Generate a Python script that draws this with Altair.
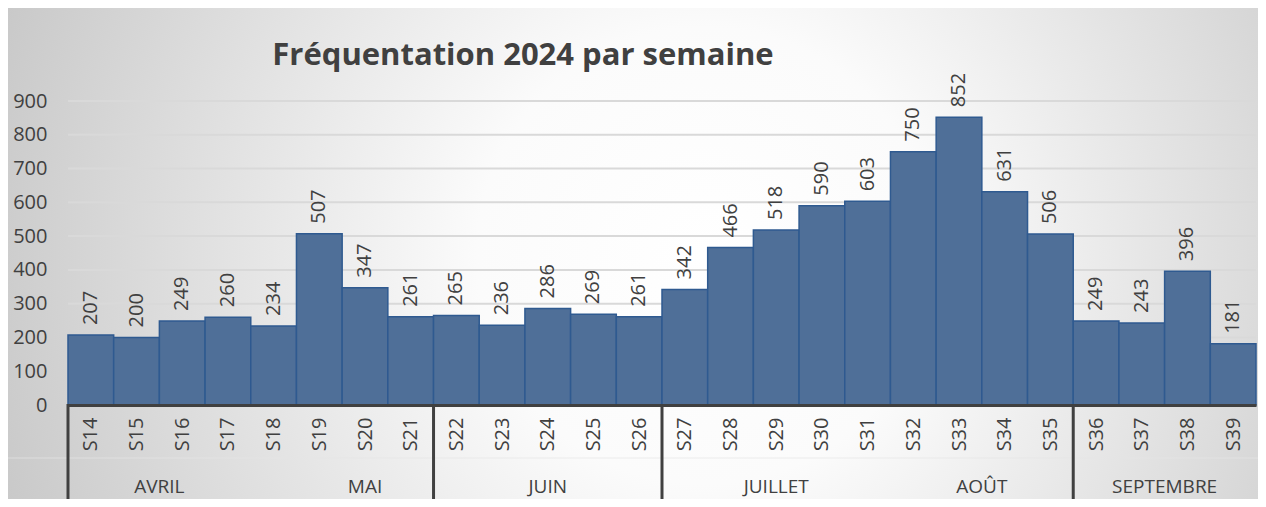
import json
import altair as alt
import pandas as pd

weeks = ["S14", "S15", "S16", "S17", "S18", "S19", "S20", "S21", "S22", "S23",
         "S24", "S25", "S26", "S27", "S28", "S29", "S30", "S31", "S32", "S33",
         "S34", "S35", "S36", "S37", "S38", "S39"]
visits = [207, 200, 249, 260, 234, 507, 347, 261, 265, 236,
          286, 269, 261, 342, 466, 518, 590, 603, 750, 852,
          631, 506, 249, 243, 396, 181]

months = ["AVRIL", "MAI", "JUIN", "JUILLET", "AOÛT", "SEPTEMBRE"]
month_first = ["S14", "S19", "S22", "S27", "S32", "S36"]
month_last = ["S17", "S21", "S26", "S31", "S35", "S39"]
separator_weeks = ["S14", "S22", "S27", "S36"]

title_text = "Fréquentation 2024 par semaine"
y_ticks = [0, 100, 200, 300, 400, 500, 600, 700, 800, 900]

W, H = 1188, 304
FONT = "Open Sans"
TXT = "#404040"

bars = pd.DataFrame({"week": weeks, "v": visits})
bars["i"] = range(len(weeks))
bars["i2"] = bars["i"] + 1
bars["c"] = bars["i"] + 0.5

mdf = pd.DataFrame({"m": months,
                    "c": [(weeks.index(a) + weeks.index(b) + 1) / 2
                          for a, b in zip(month_first, month_last)]})
sdf = pd.DataFrame({"s": [weeks.index(w) for w in separator_weeks]})
gdf = pd.DataFrame({"t": y_ticks[1:]})

xscale = alt.Scale(domain=[0, len(weeks)], nice=False, zero=False)
yscale = alt.Scale(domain=[0, 900], nice=False)

label_expr = json.dumps(weeks) + "[floor(datum.value)]"

xaxis = alt.Axis(values=[i + 0.5 for i in range(len(weeks))], labelExpr=label_expr,
                 title=None, grid=False, ticks=False, domain=True,
                 domainColor="#404040", domainWidth=3,
                 labelAngle=270, labelAlign="right", labelBaseline="middle",
                 labelPadding=12, labelFont=FONT, labelFontSize=20,
                 labelColor=TXT, labelOverlap=False, zindex=2)
yaxis = alt.Axis(values=y_ticks, title=None, domain=False, ticks=False,
                 grid=False, labelPadding=21, labelFont=FONT, labelFontSize=20,
                 labelColor=TXT, labelOverlap=False, labelBound=False,
                 labelFlush=False, zindex=2)

bg = alt.Chart(pd.DataFrame({"a": [0]})).mark_rect(
    fill=alt.RadialGradient(
        gradient="radial", x1=0.55, y1=0.5, x2=0.55, y2=0.5, r1=0, r2=0.72,
        stops=[alt.GradientStop(offset=0, color="#ffffff"),
               alt.GradientStop(offset=0.25, color="#fbfbfb"),
               alt.GradientStop(offset=1, color="#b8b8b8")]),
).encode(x=alt.value(-61), x2=alt.value(W + 20), y=alt.value(-94), y2=alt.value(H + 100))

faint = alt.Chart(pd.DataFrame({"a": [0]})).mark_rule(color="#e6e6e6", strokeWidth=1,
                                                      opacity=0.7).encode(
    x=alt.value(-61), x2=alt.value(W + 20), y=alt.value(H + 53))

grid = alt.Chart(gdf).mark_rule(color="#d9d9d9", strokeWidth=2).encode(
    x=alt.value(0), x2=alt.value(W), y=alt.Y("t:Q", scale=yscale, axis=yaxis))

base = alt.Chart(bars)

bar = base.mark_bar(color="#4f6f98", stroke="#2f5a90", strokeWidth=1.5).encode(
    x=alt.X("i:Q", scale=xscale, axis=xaxis),
    x2="i2:Q",
    y=alt.Y("v:Q", scale=yscale, axis=yaxis),
    y2=alt.datum(0),
)

vlabels = base.mark_text(angle=270, align="left", baseline="middle", dx=10,
                         font=FONT, fontSize=20, color=TXT).encode(
    x=alt.X("c:Q", scale=xscale, axis=xaxis), y=alt.Y("v:Q", scale=yscale, axis=yaxis),
    text="v:Q")

seps = alt.Chart(sdf).mark_rule(color="#404040", strokeWidth=3).encode(
    x=alt.X("s:Q", scale=xscale, axis=xaxis), y=alt.value(H - 1), y2=alt.value(H + 100))

mlabels = alt.Chart(mdf).mark_text(font=FONT, fontSize=19, color=TXT,
                                   baseline="alphabetic").encode(
    x=alt.X("c:Q", scale=xscale, axis=xaxis), y=alt.value(H + 88), text="m:N")

title = alt.Chart(pd.DataFrame({"t": [title_text]})).mark_text(
    font=FONT, fontSize=31, fontWeight="bold", color=TXT, align="center",
    baseline="alphabetic").encode(x=alt.value(455), y=alt.value(-36), text="t:N")

chart = alt.layer(bg, faint, grid, bar, vlabels, seps, mlabels, title).properties(
    width=W, height=H,
    autosize=alt.AutoSizeParams(type="none"),
    padding={"left": 60, "top": 93, "right": 2, "bottom": 94},
).configure_view(stroke=None).configure(background="#ffffff")

chart.save("out.html", embed_options={"renderer": "svg", "actions": False})
